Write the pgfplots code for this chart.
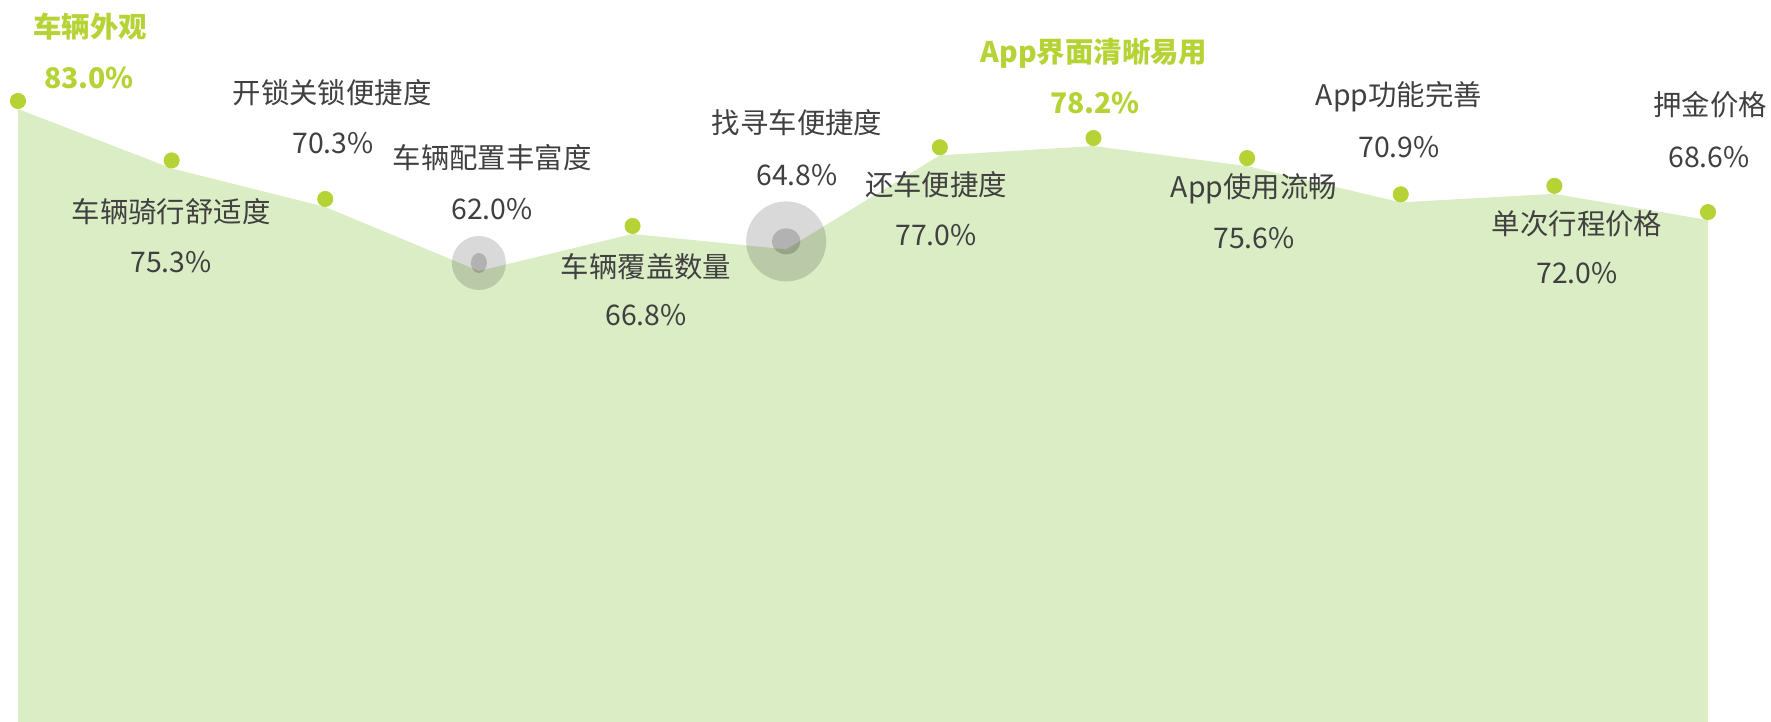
\documentclass[border=0pt]{standalone}
\usepackage{pgfplots}
\pgfplotsset{compat=1.18}
\usepackage{fontspec}
\setmainfont{Noto Sans CJK SC}
\definecolor{areafill}{HTML}{DBEDC5}
\definecolor{mk}{HTML}{B5D334}
\definecolor{txt}{HTML}{404040}
\begin{document}
\begin{tikzpicture}
\path[use as bounding box] (0,0) rectangle (885.5pt,361pt);
\begin{axis}[at={(0,0)}, anchor=south west, width=885.5pt, height=361pt,
  scale only axis, hide axis, clip=false,
  xmin=-0.11716, xmax=11.4101, ymin=3.534, ymax=97.13]
\addplot[fill=areafill, draw=none] coordinates {
 (0,3.534) (0,83.0) (1,75.3) (2,70.3) (3,62.0) (4,66.8) (5,64.8)
 (6,77.0) (7,78.2) (8,75.6) (9,70.9) (10,72.0) (11,68.6) (11,3.534)};
\addplot[draw=none, only marks, mark=*, mark size=3.8pt, mark options={fill=mk, draw=mk, line width=0.4pt, yshift=4pt}] coordinates {
 (0,83.0) (1,75.3) (2,70.3) (4,66.8) (6,77.0) (7,78.2) (8,75.6) (9,70.9) (10,72.0) (11,68.6)};
\addplot[draw=none, only marks, mark=*, mark size=13.5pt, mark options={fill=black, draw=black, line width=0pt, draw opacity=0, fill opacity=0.15, yshift=4pt}] coordinates {(3,62.0)};
\addplot[draw=none, only marks, mark=*, mark size=5pt, mark options={fill=black, draw=black, line width=0pt, draw opacity=0, fill opacity=0.18, yshift=4pt, xscale=0.8}] coordinates {(3,62.0)};
\addplot[draw=none, only marks, mark=*, mark size=20pt, mark options={fill=black, draw=black, line width=0pt, draw opacity=0, fill opacity=0.15, yshift=4pt}] coordinates {(5,64.8)};
\addplot[draw=none, only marks, mark=*, mark size=6.5pt, mark options={fill=black, draw=black, line width=0pt, draw opacity=0, fill opacity=0.18, yshift=4pt, xscale=1.1}] coordinates {(5,64.8)};
\end{axis}
\begin{scope}[x=0.5pt, y=-0.5pt, shift={(0pt,361pt)},
  every node/.style={inner sep=0pt, text=txt, font=\fontsize{14.2pt}{17pt}\selectfont},
  hl/.style={text=mk, font=\fontsize{14.2pt}{17pt}\selectfont\bfseries}]
\node[hl] at (90,27) {车辆外观};
\node[hl] at (89,78) {83.0\%};
\node at (171,212) {车辆骑行舒适度};
\node at (171,262) {75.3\%};
\node at (332,93) {开锁关锁便捷度};
\node at (333,143) {70.3\%};
\node at (492,158) {车辆配置丰富度};
\node at (492,209) {62.0\%};
\node at (646,267) {车辆覆盖数量};
\node at (646,315) {66.8\%};
\node at (797,123) {找寻车便捷度};
\node at (797,175) {64.8\%};
\node at (936,185) {还车便捷度};
\node at (936,235) {77.0\%};
\node[hl] at (1094,53) {App界面清晰易用};
\node[hl] at (1095,103) {78.2\%};
\node at (1254,189) {App使用流畅};
\node at (1254,238) {75.6\%};
\node at (1399,97) {App功能完善};
\node at (1399,147) {70.9\%};
\node at (1577,224) {单次行程价格};
\node at (1577,273) {72.0\%};
\node at (1710,105) {押金价格};
\node at (1709,157) {68.6\%};
\end{scope}
\end{tikzpicture}
\end{document}
